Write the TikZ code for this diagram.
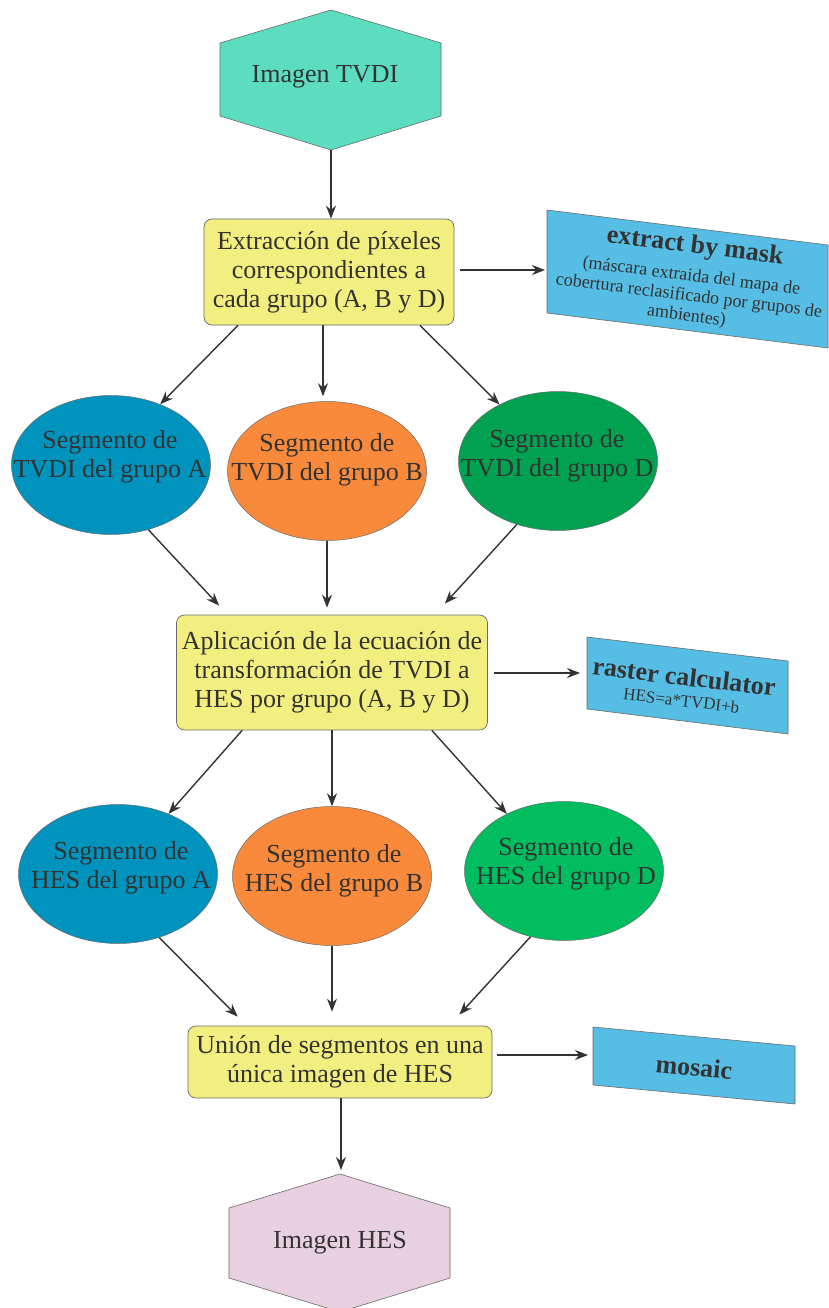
\documentclass[tikz,border=0pt]{standalone}
\usepackage{fontspec}
\setmainfont{Liberation Serif}
\usetikzlibrary{arrows.meta,shapes.geometric}
\definecolor{txt}{HTML}{333333}
\definecolor{bordergray}{HTML}{6A6A6A}
\definecolor{arrgray}{HTML}{333333}
\definecolor{hexgreen}{HTML}{5CDDC0}
\definecolor{hexpink}{HTML}{E8D0E0}
\definecolor{boxyellow}{HTML}{F2EE80}
\definecolor{ellblue}{HTML}{0093BE}
\definecolor{ellorange}{HTML}{F98A3C}
\definecolor{elldgreen}{HTML}{00A150}
\definecolor{ellgreen}{HTML}{00BE5F}
\definecolor{slantblue}{HTML}{56BDE4}
\begin{document}
\begin{tikzpicture}[x=1pt,y=-1pt,
  proc/.style={draw=bordergray, line width=0.7pt, fill=boxyellow, rounded corners=8pt,
    text=txt, font=\fontsize{26}{29}\selectfont, align=center, inner sep=0pt},
  ell/.style={ellipse, draw=bordergray, line width=0.5pt, minimum width=199pt,
    minimum height=139pt, inner sep=0pt},
  lbl/.style={text=txt, font=\fontsize{26}{29}\selectfont, align=center, inner sep=0pt},
  hexa/.style={draw=bordergray, line width=0.6pt},
  slant/.style={fill=slantblue, draw=bordergray, line width=0.6pt},
  arr/.style={draw=arrgray, line width=1.4pt, -{Stealth[length=13pt,width=10pt]}}]
\useasboundingbox (0,0) rectangle (828,1308);
\fill[white] (0,0) rectangle (828,1308);

% top hexagon
\draw[hexa, fill=hexgreen] (331,10) -- (441,43) -- (441,116) -- (331,150) -- (220,116) -- (220,43) -- cycle;
\coordinate (h1bot) at (331,150);
\node[lbl] (t1) at (325,77) {Imagen TVDI};

% process boxes
\node[proc, minimum width=250pt, minimum height=106pt] (b1) at (329,272)
  {Extracción de píxeles\\correspondientes a\\cada grupo (A, B y D)};
\node[proc, minimum width=311pt, minimum height=115pt] (b2) at (332,672.5)
  {Aplicación de la ecuación de\\transformación de TVDI a\\HES por grupo (A, B y D)};
\node[proc, minimum width=304pt, minimum height=72pt] (b3) at (340,1062)
  {Unión de segmentos en una\\única imagen de HES};

% ellipses row 1
\node[ell, fill=ellblue] (eA1) at (111,465) {};
\node[ell, fill=ellorange] (eB1) at (327,471) {};
\node[ell, fill=elldgreen] (eD1) at (558,461) {};
\node[lbl] (tA1) at (110,457) {Segmento de\\TVDI del grupo A};
\node[lbl] (tB1) at (327,460) {Segmento de\\TVDI del grupo B};
\node[lbl] (tD1) at (557,456) {Segmento de\\TVDI del grupo D};

% ellipses row 2
\node[ell, fill=ellblue] (eA2) at (118,874) {};
\node[ell, fill=ellorange] (eB2) at (332,876) {};
\node[ell, fill=ellgreen] (eD2) at (564,871) {};
\node[lbl] (tA2) at (121,868) {Segmento de\\HES del grupo A};
\node[lbl] (tB2) at (334,871) {Segmento de\\HES del grupo B};
\node[lbl] (tD2) at (566,864) {Segmento de\\HES del grupo D};

% bottom hexagon
\draw[hexa, fill=hexpink] (340,1174) -- (450,1208) -- (450,1278) -- (340,1312) -- (229,1278) -- (229,1208) -- cycle;
\coordinate (h2top) at (340,1174);
\node[lbl] (t2) at (340,1243) {Imagen HES};

% slanted tool boxes
\draw[slant] (547,210) -- (828,245) -- (828,348) -- (547,313) -- cycle;
\coordinate (s1in) at (547,270);
\node[text=txt, rotate=-7.1, align=center, inner sep=0pt, font=\fontsize{18}{20}\selectfont] (s1t) at (691,280)
  {{\bfseries\fontsize{26}{26}\selectfont extract by mask}\\[8pt]
   (máscara extraida del mapa de\\cobertura reclasificado por grupos de\\ambientes)};

\draw[slant] (587,637) -- (788,661) -- (788,734) -- (587,709) -- cycle;
\coordinate (s2in) at (587,673);
\node[text=txt, rotate=-6.8, align=center, inner sep=0pt, font=\fontsize{17}{19}\selectfont] (s2t) at (683,687)
  {{\bfseries\fontsize{26}{26}\selectfont raster calculator}\\[2pt] HES=a*TVDI+b};

\draw[slant] (593,1027) -- (795,1046) -- (795,1104) -- (593,1085) -- cycle;
\coordinate (s3in) at (593,1055);
\node[text=txt, rotate=-5.4, inner sep=0pt, font=\bfseries\fontsize{26}{26}\selectfont] (s3t) at (694,1067) {mosaic};

% connectors
\draw[arr] (h1bot) -- (h1bot |- b1.north);
\draw[arr] ([xshift=6]b1.east |- s1in) -- ([xshift=-2]s1in);
\draw[arr] ([xshift=-91]b1.south) -- (eA1.51);
\draw[arr] ([xshift=-6]b1.south) -- ([xshift=-6,yshift=5]b1.south |- eB1.north);
\draw[arr] ([xshift=91]b1.south) -- (eD1.136);

\draw[arr] (eA1.-60) -- ([xshift=43,yshift=9]b2.north west);
\draw[arr] (eB1.south) -- ([yshift=7]eB1.south |- b2.north);
\draw[arr] (eD1.-123) -- ([xshift=-43,yshift=11]b2.north east);
\draw[arr] ([xshift=6]b2.east |- s2in) -- ([xshift=-7]s2in);

\draw[arr] ([xshift=66]b2.south west) -- (eA2.50);
\draw[arr] (b2.south) -- (b2.south |- eB2.north);
\draw[arr] ([xshift=-56]b2.south east) -- (eD2.135);

\draw[arr] (eA2.-57) -- ([xshift=50,yshift=9]b3.north west);
\draw[arr] (eB2.south) -- ([yshift=14]eB2.south |- b3.north);
\draw[arr] (eD2.-117) -- ([xshift=-33,yshift=11]b3.north east);
\draw[arr] ([xshift=5]b3.east |- s3in) -- ([xshift=-5]s3in);
\draw[arr] ([xshift=1]b3.south) -- ([xshift=1,yshift=4]h2top);
\end{tikzpicture}
\end{document}
